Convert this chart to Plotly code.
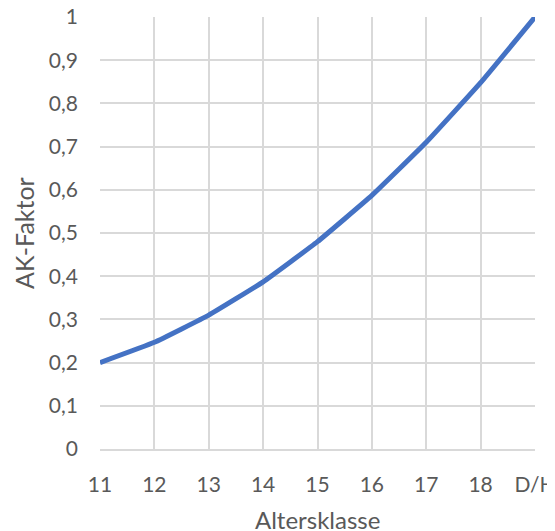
import plotly.graph_objects as go

categories = ["11", "12", "13", "14", "15", "16", "17", "18", "D/H"]
ak_faktor = [0.2, 0.247, 0.31, 0.387, 0.48, 0.587, 0.71, 0.848, 1.0]
y_ticks = [0, 0.1, 0.2, 0.3, 0.4, 0.5, 0.6, 0.7, 0.8, 0.9, 1.0]
y_tick_labels = ["0", "0,1", "0,2", "0,3", "0,4", "0,5", "0,6", "0,7", "0,8", "0,9", "1"]

fig = go.Figure(
    go.Scatter(
        x=categories,
        y=ak_faktor,
        mode="lines",
        line=dict(color="#4472C4", width=5, shape="spline", smoothing=0.3),
        hoverinfo="skip",
        cliponaxis=False,
    )
)

font_family = "Lato, Open Sans, sans-serif"
gray = "#595959"
grid = "#D9D9D9"

# the page body adds an 8px offset, so the figure is sized to fill the rest of the window
fig.update_layout(
    width=547,
    height=523,
    margin=dict(l=92, r=20, t=9, b=82, autoexpand=False),
    paper_bgcolor="white",
    plot_bgcolor="white",
    showlegend=False,
    font=dict(family=font_family, size=21, color=gray),
    xaxis=dict(
        type="category",
        range=[0, 8],
        automargin=False,
        showgrid=True,
        gridcolor=grid,
        gridwidth=1.5,
        showline=True,
        linecolor=grid,
        linewidth=1.5,
        zeroline=False,
        ticks="",
        ticklabelstandoff=16,
        ticklabeloverflow="allow",
        tickfont=dict(size=21, color=gray),
    ),
    yaxis=dict(
        range=[0, 1],
        automargin=False,
        tickvals=y_ticks,
        ticktext=y_tick_labels,
        showgrid=True,
        gridcolor=grid,
        gridwidth=1.5,
        zeroline=False,
        showline=False,
        ticks="",
        ticklabelstandoff=21,
        ticklabeloverflow="allow",
        tickfont=dict(size=21, color=gray),
    ),
    annotations=[
        dict(text="Altersklasse", xref="paper", yref="paper", x=0.5, y=0,
             yshift=-70, xanchor="center", yanchor="middle",
             showarrow=False, font=dict(size=24, color=gray)),
        dict(text="AK-Faktor", xref="paper", yref="paper", x=0, y=0.5,
             xshift=-76, xanchor="center", yanchor="middle", textangle=-90,
             showarrow=False, font=dict(size=25, color=gray)),
    ],
)

fig.write_html("out.html")
